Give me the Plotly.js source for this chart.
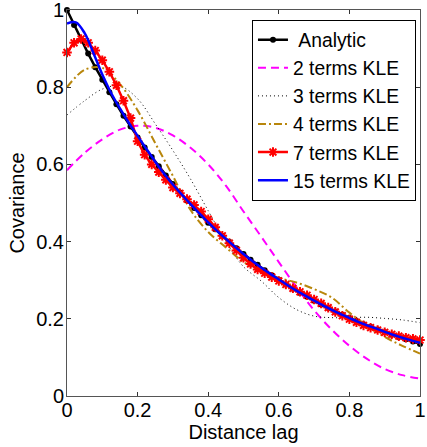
<!DOCTYPE html>
<html>
<head>
<meta charset="utf-8">
<script src="https://cdn.plot.ly/plotly-3.0.1.min.js"></script>
<style>
  html, body { margin: 0; padding: 0; background: #fff; }
  #chart { width: 427px; height: 447px; }
</style>
</head>
<body>
<div id="chart"></div>
<script>
// Dense sampling (step 0.02) for marker series
const xDense = [0,0.02,0.04,0.06,0.08,0.10,0.12,0.14,0.16,0.18,0.20,0.22,0.24,0.26,0.28,0.30,0.32,0.34,0.36,0.38,0.40,0.42,0.44,0.46,0.48,0.50,0.52,0.54,0.56,0.58,0.60,0.62,0.64,0.66,0.68,0.70,0.72,0.74,0.76,0.78,0.80,0.82,0.84,0.86,0.88,0.90,0.92,0.94,0.96,0.98,1.00];
const analytic = [1.000,0.961,0.923,0.887,0.852,0.819,0.787,0.756,0.726,0.698,0.670,0.644,0.619,0.595,0.571,0.549,0.527,0.507,0.487,0.468,0.449,0.432,0.415,0.399,0.383,0.368,0.353,0.340,0.326,0.313,0.301,0.289,0.278,0.267,0.257,0.247,0.237,0.228,0.219,0.210,0.202,0.194,0.186,0.179,0.172,0.165,0.159,0.153,0.147,0.141,0.135];
const kle7 = [0.890,0.915,0.925,0.915,0.895,0.870,0.840,0.805,0.765,0.720,0.660,0.625,0.600,0.580,0.560,0.540,0.525,0.510,0.495,0.478,0.458,0.437,0.415,0.396,0.377,0.358,0.342,0.328,0.318,0.308,0.298,0.289,0.279,0.270,0.261,0.250,0.240,0.229,0.218,0.208,0.199,0.191,0.183,0.177,0.171,0.165,0.160,0.155,0.151,0.148,0.145];

// 15 terms (step 0.025)
const xMid = [0,0.025,0.05,0.075,0.1,0.125,0.15,0.175,0.2,0.225,0.25,0.275,0.3,0.325,0.35,0.375,0.4,0.425,0.45,0.475,0.5,0.525,0.55,0.575,0.6,0.625,0.65,0.675,0.7,0.725,0.75,0.775,0.8,0.825,0.85,0.875,0.9,0.925,0.95,0.975,1.0];
const kle15 = [0.965,0.968,0.940,0.888,0.833,0.785,0.745,0.708,0.674,0.640,0.607,0.576,0.548,0.522,0.497,0.473,0.450,0.428,0.407,0.387,0.368,0.350,0.333,0.317,0.302,0.287,0.273,0.260,0.247,0.235,0.223,0.212,0.202,0.192,0.183,0.175,0.166,0.158,0.151,0.144,0.138];

// Coarse sampling (step 0.05)
const xCoarse = [0,0.05,0.1,0.15,0.2,0.25,0.3,0.35,0.4,0.45,0.5,0.55,0.6,0.65,0.7,0.75,0.8,0.85,0.9,0.95,1.0];
const kle2 = [0.585,0.630,0.665,0.690,0.700,0.695,0.675,0.643,0.600,0.545,0.478,0.413,0.347,0.282,0.222,0.172,0.130,0.096,0.070,0.054,0.045];
const kle3 = [0.728,0.765,0.795,0.803,0.770,0.705,0.636,0.562,0.480,0.400,0.335,0.298,0.255,0.224,0.207,0.203,0.203,0.204,0.201,0.197,0.190];
const kle4 = [0.800,0.845,0.850,0.808,0.740,0.655,0.570,0.482,0.425,0.385,0.347,0.323,0.306,0.294,0.277,0.255,0.216,0.182,0.153,0.130,0.110];

const legendNames = ['\u00a0Analytic','2 terms KLE','3 terms KLE','4 terms KLE','7 terms KLE','15 terms KLE'];
const tickVals = [0,0.2,0.4,0.6,0.8,1];
const tickText = ['0','0.2','0.4','0.6','0.8','1'];

const traces = [
  {x: xDense, y: analytic, name: legendNames[0], mode: 'lines+markers', cliponaxis: false,
   line: {color: '#000000', width: 2.5}, marker: {symbol: 'circle', size: 6, color: '#000000'}},
  {x: xCoarse, y: kle2, name: legendNames[1], mode: 'lines',
   line: {color: '#ff00ff', width: 2, dash: '8px,5px', shape: 'spline'}},
  {x: xCoarse, y: kle3, name: legendNames[2], mode: 'lines',
   line: {color: '#000000', width: 1, dash: '1px,3px', shape: 'spline'}},
  {x: xCoarse, y: kle4, name: legendNames[3], mode: 'lines',
   line: {color: '#b8860b', width: 2, dash: '8px,3px,2px,3px', shape: 'spline'}},
  {x: xDense, y: kle7, name: legendNames[4], mode: 'lines+markers', cliponaxis: false,
   line: {color: '#ff0000', width: 2.5}, marker: {symbol: 'asterisk-open', size: 8, color: '#ff0000', line: {color: '#ff0000', width: 2}}},
  {x: xMid, y: kle15, name: legendNames[5], mode: 'lines',
   line: {color: '#0000ff', width: 2.5, shape: 'spline'}}
];

const axisCommon = {
  range: [0, 1], tickvals: tickVals, ticktext: tickText,
  ticks: 'inside', ticklen: 4, tickcolor: '#333', tickwidth: 1,
  showline: true, linecolor: '#555', linewidth: 1, mirror: 'ticks',
  showgrid: false, zeroline: false, ticklabeloverflow: 'allow',
  tickfont: {family: 'Liberation Sans, Arial, sans-serif', size: 20, color: '#000'}
};

const layout = {
  width: 427, height: 447,
  margin: {l: 67, r: 7, t: 10, b: 51},
  paper_bgcolor: '#fff', plot_bgcolor: '#fff',
  showlegend: true,
  xaxis: Object.assign({}, axisCommon, {
    ticklabelstandoff: -4,
    title: {text: 'Distance lag', font: {family: 'Liberation Sans, Arial, sans-serif', size: 20, color: '#000'}, standoff: 0}
  }),
  yaxis: Object.assign({}, axisCommon, {
    ticklabelstandoff: -2,
    title: {text: 'Covariance', font: {family: 'Liberation Sans, Arial, sans-serif', size: 20, color: '#000'}, standoff: 6}
  }),
  legend: {
    x: 0.524, y: 0.975, xanchor: 'left', yanchor: 'top',
    bgcolor: '#fff', bordercolor: '#000', borderwidth: 1,
    font: {family: 'Liberation Sans, Arial, sans-serif', size: 19.3, color: '#000'},
    itemwidth: 30, tracegroupgap: 0
  }
};

Plotly.newPlot('chart', traces, layout, {displayModeBar: false, staticPlot: true});
</script>
</body>
</html>
